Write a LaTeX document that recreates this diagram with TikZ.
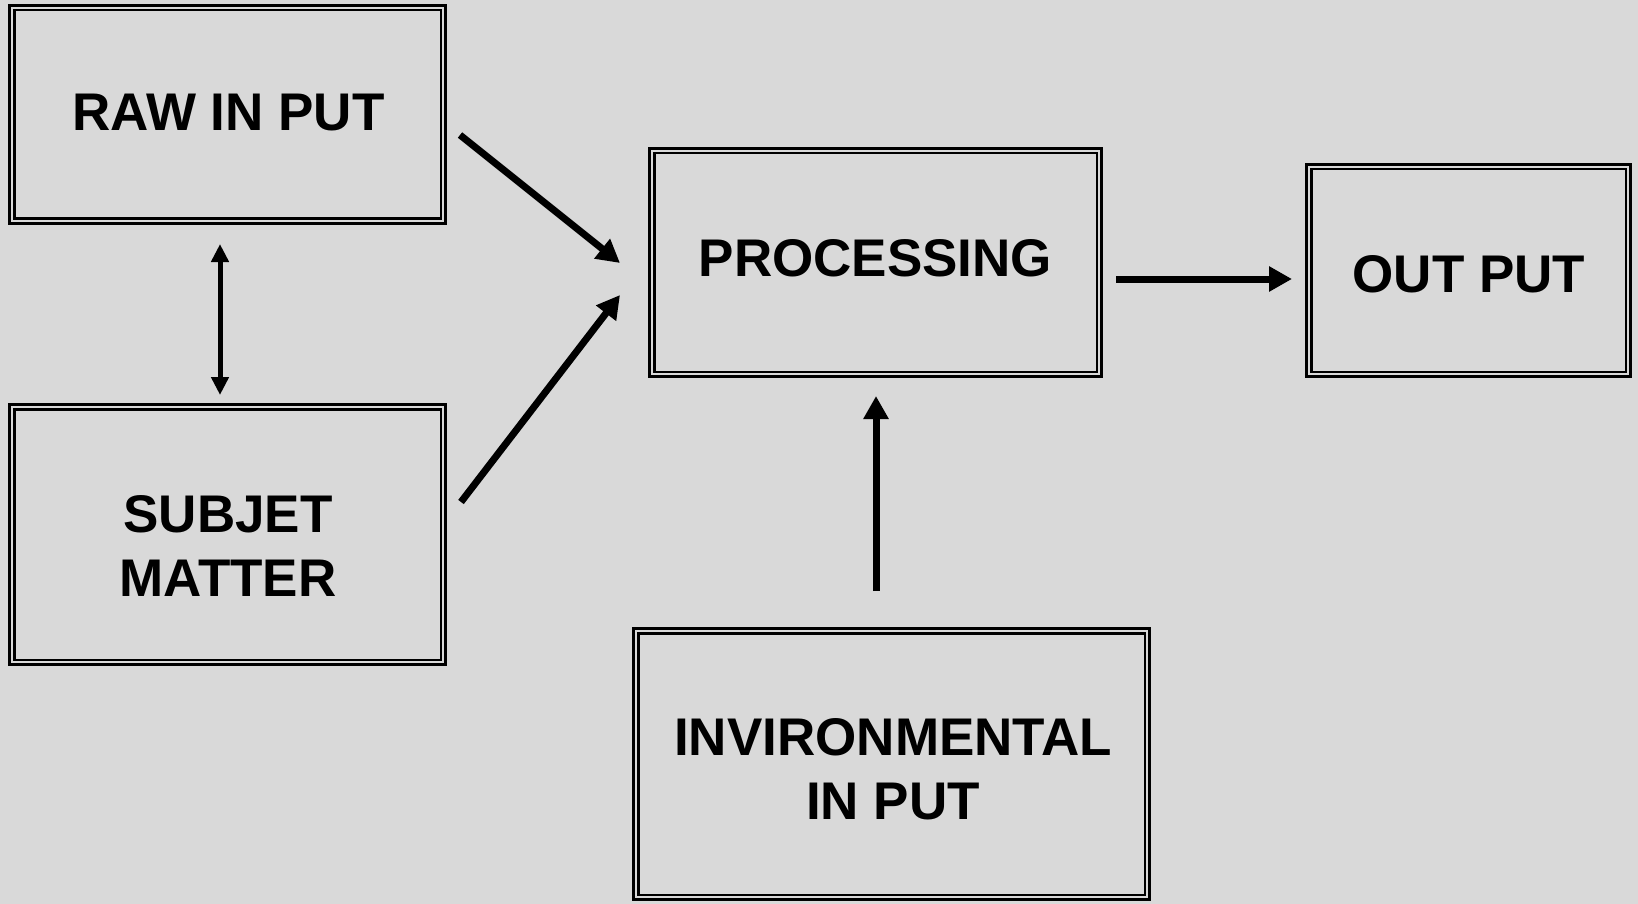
\documentclass[tikz,border=0pt]{standalone}
\usepackage{fontspec}
\setmainfont{Liberation Sans}
\usetikzlibrary{arrows.meta}
\definecolor{bgcol}{HTML}{D9D9D9}
\begin{document}
\begin{tikzpicture}[x=1pt,y=-1pt,
  box/.style={draw=black, line width=2.75pt, double=bgcol, double distance=2pt, rectangle, inner sep=0pt},
  lbl/.style={font=\fontsize{53}{64}\selectfont\bfseries, align=center, inner sep=0pt},
  arr/.style={line width=7pt, -{Triangle[length=23pt,width=24pt]}},
  darr/.style={line width=5pt, {Triangle[length=18pt,width=17pt]}-{Triangle[length=18pt,width=17pt]}}]
\fill[bgcol] (0,0) rectangle (1638,904);
\useasboundingbox (0,0) rectangle (1638,904);
% boxes
\node[box, minimum width=431.5pt, minimum height=213.5pt] (raw) at (227.5,114.5) {};
\node[box, minimum width=431.5pt, minimum height=255.5pt] (subj) at (227.5,534.5) {};
\node[box, minimum width=447.5pt, minimum height=223.5pt] (proc) at (875.5,262.5) {};
\node[box, minimum width=319.5pt, minimum height=207.5pt] (out) at (1468.5,270.5) {};
\node[box, minimum width=511.5pt, minimum height=266.5pt] (env) at (891.5,764) {};
% labels
\node[lbl] (rawt) at (228.5,113) {RAW IN PUT};
\node[lbl] (subjt) at (228,545.5) {SUBJET\\MATTER};
\node[lbl] (proct) at (875.5,258.5) {PROCESSING};
\node[lbl] (outt) at (1469,274) {OUT PUT};
\node[lbl] (envt) at (893,769) {INVIRONMENTAL\\IN PUT};
% connector ends
\coordinate (rawS) at (460,135);
\coordinate (procA) at (620,263);
\coordinate (subjS) at (461,502);
\coordinate (procB) at (620,295);
\coordinate (procS) at (1116,279);
\coordinate (outE) at (1292,279);
\coordinate (envS) at (876,591);
\coordinate (procC) at (876,396);
\coordinate (rawB) at (220,244);
\coordinate (subjT) at (220,395);
% connectors
\draw[arr] (rawS) -- (procA);
\draw[arr] (subjS) -- (procB);
\draw[arr] (procS) -- (outE);
\draw[arr] (envS) -- (procC);
\draw[darr] (rawB) -- (subjT);
\end{tikzpicture}
\end{document}
